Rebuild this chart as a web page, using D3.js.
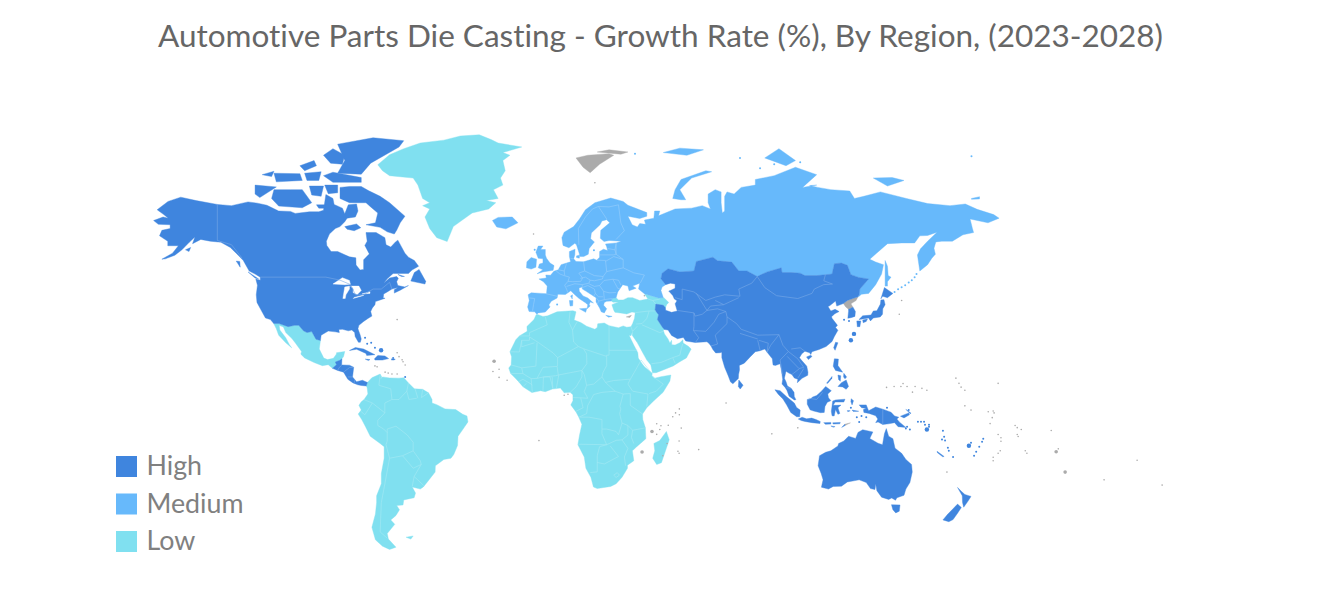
<!DOCTYPE html>
<html>
<head>
<meta charset="utf-8">
<title>Automotive Parts Die Casting</title>
<script src="https://cdn.jsdelivr.net/npm/d3@7"></script>
<style>
  html, body { margin: 0; background: #fff; }
  svg { display: block; }
</style>
</head>
<body>
<div id="map"></div>
<script>
// Chart text
var chartTitle = "Automotive Parts Die Casting - Growth Rate (%), By Region, (2023-2028)";
var legendLabels = ["High", "Medium", "Low"];

// Land outlines, [lon, lat], longitudes past 180 are the wrapped east end of the map
var highLand = [
  // Alaska, Canada, USA
  [[-168,65.6],[-164,66.5],[-161.8,66.2],[-163.7,67.1],[-166.5,68.3],[-161.9,70.3],[-156.5,71.3],[-150,70.5],[-141,69.6],[-135,69.3],[-128,70.2],[-124,69.9],[-120,69.4],[-115,68],[-110,67.9],[-108,67.4],[-102,67.8],[-98,67.8],[-96,68.2],[-95,71.9],[-92,71],[-91.5,69.6],[-88,68.7],[-87,67.3],[-85.5,69.5],[-82,69.7],[-81.4,68],[-82.5,66.5],[-86,66.2],[-87,65.3],[-89,64],[-91,63.5],[-93.5,62],[-94.8,60],[-94.6,58.8],[-92.8,57],[-90,57],[-85,55.4],[-82.3,55.1],[-82.2,52.9],[-80.5,51.3],[-79,51.5],[-79,54.5],[-76.6,56.3],[-78.5,58.8],[-77.5,60],[-78,62.4],[-73.7,62.4],[-70,61],[-69.5,59],[-67.5,58.3],[-65.5,59.8],[-64.5,60.3],[-61.5,56.5],[-60,55.3],[-57.5,54.3],[-55.7,52.5],[-58.5,51.3],[-60,50.2],[-66.5,50.2],[-69,48.5],[-70.5,47],[-68,48.7],[-65,49.2],[-64.3,48.6],[-65,47.5],[-64.5,46.2],[-61.5,45.7],[-60,46.2],[-63.5,44.6],[-66,43.6],[-66,44.8],[-64.5,45.5],[-67,45],[-69,44],[-70.5,43.3],[-70.7,41.9],[-69.9,41.8],[-72,41.2],[-74,40.6],[-74.2,39.5],[-75.3,38.3],[-76,37],[-75.5,35.3],[-77,34.5],[-79,33.3],[-81,31.8],[-81.4,30.5],[-80.5,28.2],[-80,26.5],[-80.4,25.2],[-81.2,25.2],[-82.6,27.5],[-82.8,29],[-84,30],[-85.5,29.7],[-88,30.3],[-89.5,30.2],[-89.3,29],[-91,29.3],[-94,29.6],[-97,28],[-97.3,25.9],[-99.2,26.4],[-101,29.4],[-103,29],[-104.5,29.7],[-106.5,31.8],[-108.2,31.8],[-111,31.3],[-114.8,32.5],[-117.1,32.5],[-118.5,34],[-120.6,34.6],[-122,36.8],[-124.2,40.3],[-124.5,43],[-124,46.3],[-124.7,48.4],[-122.8,48],[-122.8,49],[-125,50],[-127.5,51],[-130,54.3],[-133,56.5],[-135.5,58.2],[-139.5,59.7],[-144,60],[-148,60.5],[-151.5,59.3],[-150.5,61.2],[-153,59.6],[-156,57.5],[-159,55.9],[-163,54.8],[-164.5,54.7],[-160,56.5],[-157.5,58.7],[-162,58.7],[-162,60],[-165.5,61.5],[-164.5,63],[-161,63.5],[-161,64.5],[-166,64.6]],
  [[-61.5,66.7],[-63.5,65],[-65,63],[-66,62],[-69,62.6],[-72,63.8],[-78,64.5],[-74,65],[-73,67.5],[-76,69],[-78,70],[-85,70],[-89,71],[-89,73.5],[-85,73.7],[-80,73.7],[-77,72.8],[-72,71.5],[-68,70]],
  [[-117,73],[-110,73],[-105,73],[-101,70],[-105,68.8],[-115,69.2],[-118,71]],
  [[-125,72],[-125,74],[-116,73.6],[-123,71.2]],
  [[-90,76.5],[-80,76.3],[-76,78.5],[-64,81.5],[-62,82.6],[-75,83.1],[-90,82],[-87,79]],
  [[-96,76],[-92,76.7],[-80,75.6],[-80,74.6],[-92,74.6]],
  [[-96,80],[-92,81.2],[-87,80],[-88,78.3],[-93,78.5]],
  [[-117,76.5],[-106,76.4],[-105,75],[-116,74.7]],
  [[-122,76.2],[-117,76.9],[-118,75.8]],
  [[-106,78],[-100,79],[-99,78],[-104,77]],
  [[-104,76.5],[-97,76.8],[-98,75],[-103,75]],
  [[-102,73.8],[-96,73.8],[-97,71.5],[-101,71.8]],
  [[-95.5,74],[-90,74],[-90,72.3],[-94,72.1]],
  [[-99,69.5],[-95,69.5],[-95,68.7],[-98,68.7]],
  [[-87,64],[-82,64.7],[-80.2,63.7],[-83,62.9],[-86,63.3]],
  [[-59,47.7],[-53,46.7],[-52.7,47.6],[-55.5,51.5],[-57.5,50.5]],
  [[-128,50.7],[-123.5,48.4],[-125,48.7]],
  [[-133,54.1],[-131.5,54],[-131.3,52.2]],
  [[-64.5,49.9],[-61.7,49.2],[-63,49.2]],
  [[-154.5,57.5],[-152.3,58.2],[-153,57]],
  // Central America
  [[-92.2,14.6],[-90.5,16.1],[-91,17.2],[-89.1,17.9],[-88.2,18.5],[-88.3,16],[-85,15.9],[-83.2,15],[-83.7,11],[-82,9],[-79.5,9.6],[-77.4,8.7],[-77.9,7.2],[-80,7.4],[-81.5,7.7],[-83.5,8.5],[-85.7,10],[-87.5,13],[-90,13.7]],
  // Caribbean
  [[-85,21.9],[-82.5,23.1],[-79,22.5],[-74.2,20.2],[-77.7,19.9],[-78,20.7],[-82,22.4]],
  [[-74.4,18.5],[-73,19.9],[-70,19.7],[-68.4,18.6],[-71,18],[-74.2,18]],
  [[-78.3,18.4],[-76.3,18.2],[-77,17.8]],
  [[-67.2,18.5],[-65.6,18.4],[-66,18],[-67.2,18]],
  // Central, South and East Asia
  [[51,47],[53,46.7],[53,45.3],[51,44.5],[50.3,44.3],[52,42.8],[52.7,41.5],[53.8,40.9],[53,39.8],[53.9,37.2],[51.5,36.7],[49,37.5],[48.9,38.4],[48,39.3],[44.8,39.7],[44.5,37.5],[46,35.8],[45.5,34],[47.7,31],[48.5,30.2],[50,30],[51.5,27.9],[54,26.6],[56.5,27.1],[57.5,25.7],[61.5,25.1],[66.5,25.4],[67.3,24.8],[68.2,23.7],[69,22.3],[70.2,20.9],[72,21],[72.8,21.2],[72.8,19],[74,15],[75.5,11.5],[76.5,8.9],[77.5,8.1],[79.8,10.3],[79.9,12],[80.3,14],[80.2,15.8],[82.3,16.7],[85,19.5],[87,21.4],[89,21.8],[91,22.5],[92,21.2],[94.2,18.5],[94.5,16],[95.5,15.8],[97.5,16.5],[98,14],[98.6,10],[98.3,8],[99.7,6.5],[100.4,5.3],[101.3,2.9],[103.5,1.3],[104.2,1.4],[103.5,2.8],[103.4,4.5],[102.2,6.2],[100.6,7.2],[100,9],[99.3,10.5],[100,13.4],[101,12.7],[102.5,12],[103.5,10.6],[105,10],[104.8,8.6],[106.8,10.4],[109.2,11.7],[109.3,13],[108.8,15.5],[106.5,18],[105.7,19],[106.7,20.6],[108,21.6],[110,21],[110.5,20.3],[111,21.4],[114,22.3],[117,23.5],[119.5,25.5],[120.5,27.5],[122,29.9],[121,31],[121.8,31.8],[119.5,34.5],[119.3,35.1],[120.7,36.2],[122.5,37],[120.8,37.8],[119,37.2],[117.8,38.8],[118.5,39.1],[121,40.8],[121.5,39],[124.3,39.9],[126,41],[128,41.6],[130.5,42.3],[131,43],[131.3,45],[135,48.4],[130.8,48.9],[127.5,49.8],[126,52.8],[123.5,53.5],[120.5,53.3],[119.5,50],[116.7,49.8],[113,49.5],[108,49.5],[106,50.3],[102.3,50.5],[98.3,50.5],[98,52],[92,50.7],[87.8,49.2],[83.5,51],[80,51],[77,53.8],[71,54.2],[69,55.3],[62,54],[61,51],[55,50.7],[50,51.7],[47.5,50.3],[47,48.5],[49,46.5]],
  [[126.2,34.5],[126.5,37],[126.5,37.8],[128.4,38.6],[129.4,37],[129.2,35.2],[127.5,34.7]],
  [[130.9,34],[132.5,35.4],[136,35.7],[137,37.2],[138.5,37.3],[140,39.7],[140.2,41.2],[141.5,41.3],[142,39.5],[141,38],[140.9,36],[139.9,35],[137,34.6],[135.8,33.5],[135,34.6],[132.5,34.2]],
  [[130,33.5],[131.7,33.5],[131.3,31.3],[130.2,31.3]],
  [[132.5,33.8],[134.5,34.2],[134,33.3],[132.7,32.8]],
  [[140.2,41.6],[141.7,45.5],[145.3,43.5],[143,42],[141,42.5]],
  [[121,25.2],[122,25],[120.8,22],[120.2,23]],
  [[108.7,19.3],[110.5,20],[111,19.5],[109.5,18.2]],
  [[80,9.7],[81.8,7.5],[80.6,5.9],[79.8,7]],
  // Philippines
  [[120.5,18.5],[122.2,18.4],[122,15.8],[124,13],[121,13.7],[120,15.5]],
  [[122,7],[123.5,8.6],[125.5,9.7],[126.5,7],[125.5,5.8],[124,6.8]],
  [[124.5,12.5],[125.7,11],[125,10.2],[124.4,11]],
  [[122,11.8],[123.2,11.5],[123,9.2],[122.3,9.9]],
  [[117.2,8.4],[119.5,11.2],[119.5,10.5],[117.7,8.3]],
  // Indonesia, New Guinea
  [[95.3,5.6],[97.5,5.2],[100.4,2.5],[103.5,0],[104.5,-1.9],[106,-3],[105.8,-5.8],[104.5,-5.8],[102,-4],[100.3,-0.9],[98.7,1.7],[96.7,3.7]],
  [[105.2,-6.8],[106.8,-6],[108.7,-6.7],[110.9,-6.4],[112.7,-7],[114.5,-7.8],[114.4,-8.7],[111,-8.3],[108,-7.8],[106.4,-7.4]],
  [[109,1.5],[110.3,1.7],[111.3,2.5],[113,3.2],[115,5],[116.8,7],[119.2,5.2],[117.7,3.8],[118,2.2],[119,1],[117.5,0.3],[116.5,-1.5],[116.2,-4],[114.6,-4.1],[111.7,-3.4],[110.2,-2.9],[109,-0.5]],
  [[119.8,0.8],[121,1.3],[125,1.6],[124.5,0.4],[120.8,0.4],[120,-1],[121.5,-1],[123.3,-0.9],[122,-2],[122.8,-4.4],[122,-4.8],[121,-2.8],[120.4,-5.5],[119.5,-5.4],[119.2,-3.5]],
  [[127.6,1.8],[128.6,1],[128,-0.8],[127.5,0.5]],
  [[128,-3],[130.8,-3.5],[128.5,-3.6]],
  [[126,-3.2],[127.2,-3.3],[126.2,-3.7]],
  [[116,-8.3],[119,-8.2],[119,-8.9],[116.7,-9]],
  [[119.8,-8.4],[123,-8.2],[122.8,-8.8],[120,-8.9]],
  [[119,-9.7],[120.8,-10],[120,-10.2]],
  [[123.6,-10.3],[124.9,-9],[125,-9.5]],
  [[131,-0.8],[134,-0.8],[135,-3.3],[138,-1.7],[141,-2.6],[144.5,-3.9],[146,-5.5],[147.8,-6],[147,-6.8],[148,-8],[150.8,-10.3],[147.5,-10],[146,-8.3],[143.5,-8.8],[141,-9.1],[139,-8],[138,-8.3],[138.9,-6.8],[138,-5.4],[135.2,-4.4],[133,-4],[132.8,-2.8],[134,-2.3],[132,-2]],
  [[148.5,-5.6],[152,-4.2],[152.3,-5],[150,-6.3]],
  [[150.8,-2.7],[153,-4.3],[152.6,-4.5]],
  [[164,-20.2],[167,-22.3],[166.4,-22.4],[164.2,-20.8]],
  // Australia, New Zealand
  [[113.6,-26],[114.2,-22],[116.8,-20.6],[119,-20],[122,-18],[122.3,-17],[124.5,-16],[126.5,-14],[129.5,-14.9],[130.5,-12.4],[132.5,-11.3],[136.8,-12.2],[135.5,-14.9],[139,-16.9],[140.9,-17.5],[141.7,-13],[142.5,-10.8],[143.5,-14],[145.3,-15],[146.2,-18.9],[149,-21],[150.8,-23.5],[153.2,-25.5],[153.5,-28.5],[152.5,-32.5],[150.8,-35],[150,-37.3],[147,-38.2],[146.4,-39.1],[144.8,-38.3],[143.5,-38.8],[140.5,-38],[138.5,-35.6],[138,-33],[137.7,-35.2],[135.8,-34.8],[134,-32.5],[131,-31.5],[126,-32.3],[123.5,-33.9],[120,-34],[118,-35],[115,-34.3],[115.7,-31.5],[114.9,-29]],
  [[144.7,-40.7],[148.3,-40.8],[148,-43],[146.5,-43.6],[145.3,-42.5]],
  [[172.7,-34.4],[174.5,-36],[175.8,-37],[178.4,-37.7],[177,-39.6],[175.3,-41.6],[174.8,-39.9],[174.7,-37.5]],
  [[172.7,-40.5],[174.3,-41.7],[172.7,-43.7],[170.8,-45.9],[169,-46.6],[166.5,-46],[168.5,-44.1]]
];

var mediumLand = [
  // Europe and Russia
  [[-5.6,36],[-6.5,36.9],[-8.9,37],[-9.5,38.7],[-8.8,41],[-9.3,43],[-8,43.7],[-3.5,43.5],[-1.5,43.4],[-1.2,46],[-2.8,47.5],[-4.7,48.4],[-1.6,48.7],[-1.8,49.7],[0.2,49.6],[1.6,50.9],[3.5,51.4],[4.7,53],[7,53.5],[8.7,53.9],[8.2,55.5],[8.2,57],[10.6,57.7],[10.5,56],[10,54.8],[11,54],[14.2,53.9],[18.5,54.8],[19.8,54.4],[21,55.3],[21,57],[22.6,57.7],[24.4,57.3],[24,58.4],[23.5,59.2],[28,59.5],[30.2,60],[25,60.2],[22.9,59.9],[21.3,60.8],[21.5,63],[25.3,65],[24,65.8],[22,65.5],[21.2,64.5],[17.5,62.3],[17.2,60.7],[18.8,59.8],[16.6,57.9],[16.2,56.2],[14.3,55.5],[12.8,55.5],[11.2,59],[10.5,59.4],[8,58.1],[5.5,58.8],[5,61],[6,62.5],[10,64],[12.5,66],[15,68.3],[19,70],[25.7,71.1],[31,70.3],[33,69.4],[41,67.6],[41,66.7],[38,66.1],[33,66.7],[34.8,64.5],[37,63.9],[38,64.8],[40.5,64.6],[40,65.7],[44,66.2],[44.3,68],[46.5,68],[46,66.8],[53,68.5],[60,68.7],[64.5,69.3],[68,68.5],[67,70],[67,72],[70,73],[72.5,72.5],[72.5,70],[73,67.5],[74,68],[74,71.5],[75,72.5],[78,72],[81,73.5],[87,74],[87,75.2],[95,76],[104,77.7],[113,76.2],[107,73.5],[113,74],[110,73.9],[113.5,73.5],[119,73],[127,72.7],[129,71],[133,71.5],[140,72.5],[151,71],[160,69.8],[169.5,69.3],[176,69.7],[181,68.4],[188,67.1],[190.3,66.2],[185.6,65],[178,66],[179,63.5],[179.5,62.4],[175,61.8],[170.5,60],[166,60],[163.5,59.8],[162.7,58],[163.3,56.2],[161.8,55],[160,53],[156.7,51],[155.7,56],[157,57.8],[160,60],[164,62.5],[160,61.6],[156.7,61.5],[154.5,59.5],[149,59.5],[143,59.3],[135.5,54.7],[138,53.8],[141.3,53],[140.5,50],[138,46.5],[135,43.5],[132,43.2],[130.7,42.3],[131,43],[131.3,45],[135,48.4],[130.8,48.9],[127.5,49.8],[126,52.8],[123.5,53.5],[120.5,53.3],[119.5,50],[116.7,49.8],[113,49.5],[108,49.5],[106,50.3],[102.3,50.5],[98.3,50.5],[98,52],[92,50.7],[87.8,49.2],[83.5,51],[80,51],[77,53.8],[71,54.2],[69,55.3],[62,54],[61,51],[55,50.7],[50,51.7],[47.5,50.3],[47,48.5],[49,46.5],[47.5,45.7],[47,44.5],[48,42],[46,41.9],[40,43.4],[37.5,45],[38,47],[35,46],[36.5,45.3],[33.5,44.4],[33,46],[30.8,46.5],[28.7,44],[28,42],[26.3,41.7],[26,40.8],[24,40.7],[23,40.3],[22.7,39.3],[24,38],[23,36.5],[21.7,36.9],[21,38.3],[19.5,40.5],[19.5,42],[15.3,44.2],[13.7,45],[13.6,45.7],[12.3,45.4],[12.4,44.2],[14,42.6],[16,41.9],[18.4,40.1],[17,40.5],[16.6,39.5],[17,39],[15.7,38],[16,39.5],[15,40.2],[12.3,41.7],[10.5,43],[8.8,44.4],[6.5,43.1],[3.3,43.2],[3,41.9],[0.5,40.7],[-0.5,39.4],[0,38.7],[-2,36.8],[-5,36.5]],
  [[-5.5,50.1],[-3,50.7],[1.3,51.2],[1.7,52.7],[0,53.5],[-1.5,55],[-2,56],[-2,57.6],[-4,57.6],[-3,58.6],[-5,58.6],[-6,56.8],[-5,55],[-3,54.8],[-3,53.5],[-4.5,53.2],[-5,52],[-3,51.4]],
  [[-10,52],[-9.8,53.9],[-8,55.2],[-5.7,54.7],[-6,52.2],[-8,51.6]],
  [[-24.4,65.6],[-22,66.4],[-16,66.5],[-13.6,65],[-18.7,63.4],[-22.6,63.9]],
  [[12.5,38],[15.6,38.2],[15.1,36.7]],
  [[8.2,41],[9.7,41],[9.6,39.1],[8.5,39]],
  [[8.7,42.6],[9.5,43],[9.4,41.5]],
  [[23.6,35.6],[26.3,35.2],[24.8,34.9]],
  [[11.2,55.7],[12.6,56],[12.4,55],[11.2,55.2]],
  [[52,71],[55.5,70.7],[57.5,70.7],[55,73],[60,75.5],[68.5,76.8],[66,77],[55.5,75.2],[53,73]],
  [[142,54.3],[143,52.5],[143.3,49.5],[144.5,49],[143,47.5],[143,46],[142,46],[142,48.5]],
  [[48,80.5],[55,81.3],[65,81],[58,80]],
  [[91,79.5],[97,81.2],[104,79],[100,78]],
  [[137,75.5],[145,75.6],[150,75],[143,73.8]],
  [[178.6,71],[182,71.4],[182,70.9],[178.6,70.8]]
];

var lowLand = [
  // Africa, Arabia, Turkey, Caucasus
  [[-5.9,35.8],[-6.8,34],[-9.8,31.4],[-9.7,29.5],[-13,27.7],[-14.5,26.2],[-17,21.4],[-16.3,19.4],[-16.5,16],[-17.5,14.7],[-16.7,12.4],[-15,10.8],[-13.3,9],[-11.5,6.9],[-7.7,4.4],[-4,5.2],[-2,4.8],[1,5.9],[4.4,6.3],[6,4.3],[8.5,4.5],[9.7,3.5],[9.7,1],[8.8,-0.8],[11,-3.8],[12.2,-6],[13.5,-9],[12.5,-13.5],[11.8,-17.5],[14.5,-22.5],[15.2,-27],[17.3,-30.5],[18.4,-34.2],[20,-34.8],[25.7,-34],[28,-33],[30.5,-30.5],[32.8,-27],[32.8,-25.8],[35.5,-24],[34.9,-20],[36.5,-18.5],[40.6,-15],[40.4,-10.5],[39.3,-7],[39.2,-4.7],[41,-2],[44,1],[47.9,4.5],[50.8,9.3],[51.2,11.8],[47,11.1],[44.3,10.5],[43.2,11.5],[43.3,12.5],[40,15.2],[39,16.5],[37.4,18.8],[37.2,21],[35.6,23.9],[34,27],[32.5,29.9],[33.5,28],[34.3,27.8],[35,29.5],[34.8,28],[37,25],[39,21.5],[41,18],[42.7,16],[43.4,12.7],[45,12.8],[49,14.3],[52.2,15.6],[55,17.3],[57.8,18.9],[59.8,22.5],[58.6,23.6],[56.4,24.9],[56.3,26.2],[55,25],[53,24.1],[51.6,24.2],[51.5,26],[50.8,24.9],[50,26.5],[48.5,28.5],[48,29.9],[48.5,30.2],[47.7,31],[45.5,34],[46,35.8],[44.5,37.5],[44.8,39.7],[48,39.3],[48.9,38.4],[49.4,39.5],[50.3,40.3],[48.5,41.8],[48,42],[46,41.9],[40,43.4],[41.5,41.5],[38,41],[35,42],[33,42],[31,41.2],[29,41.2],[28,42],[26.3,41.7],[26,40.8],[26.7,40.4],[29,40.5],[26.2,39.5],[27,37.5],[27.5,36.7],[30.5,36.4],[32.5,36.1],[34.7,36.8],[36.1,36.6],[35.8,34.5],[35,32.5],[34.3,31.3],[32.5,31.1],[31,31.6],[29,30.9],[25,31.7],[23,32.7],[20.2,32.4],[20,31],[19,30.3],[15.5,31.5],[13,32.9],[10.2,33.8],[11,36.9],[9.7,37.3],[3,36.9],[-1,35.4],[-3,35.2],[-5.3,35.9]],
  [[49.3,-12],[50.5,-15.5],[47.2,-24.8],[45.2,-25.5],[43.5,-23],[44.4,-20],[44,-17],[46.5,-15.8]],
  // Greenland
  [[-73,78.2],[-68,80.1],[-62,81.2],[-55,82.2],[-45,82.7],[-38,83.4],[-30,83.6],[-25,82.8],[-22,82.2],[-12,81.5],[-20,80.5],[-17,80],[-20,79],[-19,77],[-21,75.5],[-20,74],[-24,73],[-22,71],[-27,70.5],[-23,70],[-26,68.5],[-33,67.5],[-37,65.8],[-41,64],[-43.6,59.9],[-48,61],[-51,63.5],[-53,66.5],[-51,68.5],[-54,69.3],[-51,70],[-54,71],[-56,74],[-58,75.5],[-68,76],[-71,77]],
  // Mexico
  [[-117.1,32.5],[-114.8,32.5],[-111,31.3],[-108.2,31.8],[-106.5,31.8],[-104.5,29.7],[-103,29],[-101,29.4],[-99.2,26.4],[-97.3,25.9],[-97.8,22.5],[-95.9,18.8],[-94.3,18.2],[-91.8,18.7],[-90.5,20.5],[-90.5,21],[-87,21.5],[-87.5,19.5],[-88.2,18.5],[-89.1,17.9],[-91,17.2],[-90.5,16.1],[-92.2,14.6],[-94,16.1],[-96.5,15.7],[-100,17],[-104,18.9],[-105.6,20.4],[-105.3,21.5],[-108,25],[-109.4,26.7],[-112,29],[-113,31.2],[-114.8,31.8],[-114.5,30],[-112,27],[-110.5,24.3],[-109.5,23],[-112,25],[-115,28],[-116,30.5]],
  // South America
  [[-77.4,8.7],[-75.5,10.7],[-72,12.2],[-71.3,11],[-72,10],[-71,11],[-68,10.6],[-64,10.5],[-62,10.7],[-60,8.5],[-57.5,6],[-54,5.8],[-51.5,4.3],[-50,1.5],[-50,0],[-48,-0.7],[-44.5,-2.5],[-40,-2.8],[-37,-4.8],[-35.2,-5.5],[-34.8,-8],[-37,-11.2],[-39,-14],[-39.2,-17.8],[-40.8,-21.5],[-42,-23],[-45,-23.5],[-48.6,-26],[-48.7,-28.5],[-52,-32.3],[-53.7,-34.2],[-55,-35],[-58.4,-34.2],[-57,-36.5],[-57.6,-38.2],[-62,-39],[-62.3,-40.8],[-65,-41],[-63.8,-42.5],[-65.3,-44.5],[-67.5,-46],[-65.8,-47.5],[-69,-50.5],[-68.5,-52.3],[-65.3,-54.8],[-68,-55.5],[-71,-54.5],[-74,-52.5],[-75.5,-48.5],[-74,-44],[-73.5,-40],[-73.5,-37.5],[-71.5,-33],[-71.5,-29],[-70.3,-23],[-70.3,-18.3],[-72,-17],[-76.2,-14],[-78.2,-10],[-79.8,-7],[-81.3,-4.7],[-80,-3],[-81,-1],[-80,0.5],[-78.8,1.5],[-77.2,3.8],[-77.5,6.5],[-77.9,7.2]],
  [[-61,-51.7],[-58,-51.3],[-59,-52.3]]
];

var noDataLand = [
  [[124.3,39.9],[125.3,38.7],[126.5,37.8],[128.4,38.6],[127.5,39.8],[129.7,41],[130.5,42.3],[128,41.6],[126,41]],
  [[11,79.5],[16,80],[25,80.3],[27,80],[21,78.3],[17,76.6],[14,77.7]],
  [[20,80.6],[30,80.2],[33,80.6],[25,81]],
  [[125,-9.5],[124.9,-9],[127.3,-8.4]],
  [[32.3,35],[34.5,35.6],[33.8,34.8]]
];

var lakes = [
  [[-92,46.7],[-88,48.8],[-85,47.9],[-84.6,46.6],[-87,46.5]],
  [[-87.8,41.7],[-87,45.7],[-85,46],[-85,45],[-86.5,43],[-86.8,41.7]],
  [[-84.5,46],[-81,46],[-80,44.5],[-81.7,43.1],[-83.5,43.8],[-83.3,45]],
  [[-83.4,41.7],[-79,42.8],[-79,42.9],[-83,42.1]],
  [[-79.7,43.3],[-76.3,44.1],[-76.3,43.5]]
];

// Country borders
var highBorders = [
  [[-141,69.6],[-141,60.2],[-135,59],[-130.5,55]],
  [[-122.8,49],[-95,49],[-89,48],[-84.5,46.5],[-82.5,43],[-79,43],[-75,45],[-71.5,45],[-68,47.3],[-67,45]],
  [[-90,13.8],[-89.3,15],[-88.3,15.8]],[[-87.5,13],[-85,14.9],[-83.2,15]],[[-85.7,11],[-83.7,11]],[[-83,8.5],[-82.8,9.6]],
  [[53,42],[56,41.3],[56,45],[61,44],[66,41],[70,42.2],[74,43],[80.5,42.5],[80,45],[85.5,47],[87.8,49.2]],
  [[54,37.4],[61,36.5],[61.5,35.3],[64.5,36],[66.5,37.4],[62,43.5]],
  [[66.5,37.4],[68,39],[73.6,39.5],[70,41]],[[73.6,39.5],[80,42]],
  [[61,36.5],[61,31.5],[60.8,29.8]],[[60.8,29.8],[63,27],[61.6,25.1]],
  [[60.8,29.8],[66,29.5],[69.5,33],[71.5,36],[74.5,37]],[[66.5,37.4],[71,38],[74.5,37]],
  [[68.2,23.7],[71,24.5],[70,28],[75,32.5],[75,35],[74.5,37]],
  [[75,35],[79,32.5],[81,30.3],[88,28],[97,28.2]],[[80.5,28.7],[88,26.5]],
  [[88,26],[89,22]],[[92,21.5],[92.5,24.8],[88.5,26]],[[92,21.2],[93.5,24],[97,28.2]],
  [[97,28.2],[98.7,24],[101,21.5]],[[101,21.5],[97.5,18],[98.5,12]],
  [[101,21.5],[103,20],[105,18.5],[107.5,15],[105.5,14.5],[102,18],[100.5,19.5]],
  [[102.2,22.5],[106,23],[108,21.6]],[[105.5,14.3],[102.5,12]],[[107.5,14.5],[105,10.5]],[[100.2,6.5],[102,6.2]],
  [[87.8,49.2],[91,45.5],[96,42.7],[105,41.7],[111,43.5],[112,45],[116,46.5],[119.7,46.7],[116,47.8],[116.7,49.8]],
  [[141,-2.6],[141,-9.1]],[[109.6,2],[113,1.5],[115.5,4.5]]
];

var mediumBorders = [
  [[-1.8,43.4],[3,42.5]],[[-8.8,41.9],[-6.5,41.7],[-7,39.5],[-7.4,37.2]],
  [[2.6,51],[4.2,50],[6,49.5],[8.2,49],[7.6,47.6],[6.2,46.3],[7,45],[7.5,43.8]],
  [[3.4,51.4],[6,51],[7,53.4]],[[6,51],[6.2,49.6]],[[8.7,54.9],[9.9,54.8]],
  [[14.2,53.9],[14.7,51],[12.2,50.3],[13.8,48.7],[13,47.6],[9.6,47.5],[7.6,47.6]],
  [[7,45.9],[10.5,46.8],[13.7,46.5],[13.6,45.7]],[[13.7,46.5],[16.5,47],[17,48],[15,49],[12.9,48.6]],
  [[14.7,51],[18.8,49.5],[22.5,49.2],[24,50.8],[23.5,54.3],[19.8,54.4]],
  [[17,48],[18.8,47.8],[22.2,48.4],[22.5,49.2]],[[16.5,46.8],[18.8,45.9],[21,46.2],[22.9,47.9]],
  [[22.9,47.9],[26.6,48.3],[28.2,46],[28.7,45.2],[29.6,45.2]],[[21,46.2],[22.7,44.2],[25,43.7],[27.9,43.8]],
  [[22.7,44.2],[23,41.3],[26.3,41.7]],[[13.6,45.5],[16,46.2],[18.8,45],[19.2,43.5],[18.5,42.5]],
  [[19.2,43.5],[20.5,42.3],[22.5,42.3]],[[19.5,42],[20.7,40.8],[20,39.7]],[[20.7,40.8],[23,41.3]],
  [[24,50.8],[31,52],[35.5,50.4],[40,49.7],[38.3,47.1]],[[23.5,54],[27,55.5],[31,54.6],[31,52]],
  [[21,56],[27,56],[28,56.2],[27.5,57.5],[24.4,57.9]],[[27.5,57.5],[28,59.4]],[[26.6,48.3],[29,48],[30,46.4]],
  [[28,59.4],[28,56.2],[31,54.6]],[[29,69.5],[30,65],[31.5,62.9],[28,60.5]],
  [[12.2,59],[12,63.5],[15,66.5],[18,68.5],[20.5,69.1],[25,69],[29,69.5]],[[20.5,69.1],[24,66],[24,65.8]]
];

var lowBorders = [
  [[-2,35],[-1.2,32],[-8.7,29],[-8.7,27.7],[-13,27.7]],[[-8.7,27.3],[-8.7,26],[-12,26],[-13,21.3],[-17,21.4]],
  [[-8.7,27.3],[-4.8,25],[1.2,21],[3.2,19],[3.2,16]],[[-12,26],[-12,23.4],[-6.6,25]],[[-5.5,25],[-6,15.5],[-12,14.8],[-16.5,16]],
  [[3.2,19],[12,23.5],[14.2,22.6],[15.5,20.5],[15.6,16.5],[13.5,13.7],[3.5,11.8],[3,15.4],[3.2,16]],
  [[8.5,37],[8,33],[9.5,30],[10,25.3],[12,23.5]],[[11.5,33.2],[9.5,30]],
  [[25,31.7],[25,20],[24,20],[24,19.5],[14.2,22.6]],[[25,22],[36.9,22]],
  [[24,19.5],[24,15.7],[22.5,13],[22,11],[23.5,8.7]],[[15.5,7.5],[18.5,8],[22,11]],[[13.5,13.7],[14.5,12],[15.5,7.5]],
  [[13.5,13.7],[13.5,11],[11,6.8],[8.6,4.6]],[[2.7,6.3],[3.7,11.8]],[[-3,5],[-2.8,11],[0,11],[1.2,6.1]],[[1.2,6.1],[0.9,11]],
  [[-5.5,10.4],[-2.8,11],[2.4,11.5],[3.5,11.8]],[[-12,14.8],[-11.5,12.4],[-8,10.3],[-5.5,10.4],[-3,15],[3,15.4]],
  [[-7.5,4.5],[-8,10.3]],[[-13.3,9],[-11.5,10],[-8,8],[-7.5,7.5]],[[-16.7,12.4],[-11.5,12.4]],[[-11.5,6.9],[-10,8.3]],
  [[23.5,8.7],[27,9.5],[33,10],[34,10]],[[38.6,18],[36.5,14.3],[34,10],[33,8],[35,5],[41.5,3.8],[41,-1.5]],
  [[38.6,18],[43,12.6]],[[43,11.5],[48,8],[45,5],[42,4]],[[27.5,5],[31,3.8],[34,4]],[[34,4],[34,-1]],
  [[31,3.8],[29.6,-1.4],[30,-2.5]],[[18.5,3.6],[22,4.5],[27.5,5]],[[23.5,8.7],[27.5,5]],
  [[15.5,7.5],[14.5,4.8],[16,2],[13,2.2],[9.8,2.3]],[[13,2.2],[14,-2],[11,-3.5]],[[18.5,3.6],[16,-1],[15.5,-4.5],[12.2,-6]],
  [[12.5,-6],[16.5,-6],[22,-7],[22,-11],[24,-11],[28,-12],[29,-13.4],[30.5,-8.5],[29.5,-4.5],[30,-2.5]],
  [[34,-1],[39.3,-4.7]],[[30.5,-8.5],[33,-9.5],[35,-11.5],[40.4,-10.5]],[[11.8,-17.3],[24,-17.5],[22,-13],[22,-11]],
  [[24,-17.5],[28,-15.7],[30.5,-15.5],[33,-13.5],[33,-9.5]],[[35,-11.5],[34.5,-14.5],[35.5,-17]],
  [[24,-17.5],[21,-18.3],[20,-22],[20,-28.4],[17,-28.7]],[[20,-24.7],[23,-25.3],[29,-22.3],[25.5,-18]],
  [[30.5,-15.5],[33,-19],[31.5,-22.5],[32,-26]],[[27,-29.7],[28.5,-28.7],[29.4,-29.7],[28,-30.6],[27,-29.7]],
  [[36.2,36.6],[42,37.2],[44.8,37.2]],[[42,37.2],[41,34.4],[39,32.5],[36.5,32.3]],[[39,32],[46.5,29],[48,29.5]],
  [[43,16.5],[47,17],[52,19],[55,20],[55.6,22.5],[56.2,24.5]],[[52,19],[53,16.7]],[[41.5,41.5],[43.5,41],[46.5,41.5]],[[43.5,41],[44.8,39.7]],
  [[35,29.5],[37,31.5]],[[34.3,31.3],[35,29.5]],
  [[-72,12],[-72.5,7.5],[-67.5,6],[-67,1.5]],[[-67,1.5],[-70,0],[-70,-4.2]],[[-78.8,1.4],[-75.3,0],[-70,-4.2]],[[-80.3,-3.4],[-78.5,-5],[-75.3,0]],
  [[-70,-4.2],[-73,-7.3],[-73,-9.5],[-70.5,-11],[-69,-12.5]],[[-69,-11],[-69,-16],[-69.5,-17.5]],
  [[-69,-11],[-65.3,-9.8],[-60.5,-13.5],[-58,-16.5],[-58,-20]],[[-69.5,-17.5],[-68,-23]],[[-68,-23],[-62.5,-22],[-58,-20]],
  [[-67,1.5],[-64,1.5],[-60.7,5]],[[-60,8.5],[-60.7,5],[-59.8,1.5],[-56.5,2]],[[-57.2,6],[-56,2]],[[-54,5.8],[-54.5,2.3]],[[-54.5,2.3],[-51.5,4.3]],
  [[-68,-23],[-70,-33],[-71.5,-40],[-72,-50],[-69,-52]],[[-62.5,-22],[-58,-27],[-54.6,-25.5],[-55,-24],[-58,-20]],
  [[-58.4,-34],[-57.6,-30.2]],[[-57.6,-30.2],[-53.5,-33.7]],[[-54.6,-25.5],[-57.6,-30.2]]
];

// Islands too small for an outline, [lon, lat]
var highIslets = [[-78.4,27],[-75.8,25],[-74.2,23],[-77.5,24.6],[-66.5,18.8],[-61.4,11],[124.6,33.9],[126.7,33.5],[155.9,-7.9],[157.2,-7.9],[158.5,-7.9],[158.9,-9.2],[160.6,-9.2],[160.6,-10],[152,-3],[151.3,-10],[152.5,-11.2],[150.8,-10.8],[142.8,-2],[166.5,-11.7],[167,-14.2],[166.1,-15.4],[167.4,-15.8],[168.6,-18.7],[169,-20],[170.8,-22.5],[178.4,-16.7],[183.5,-15],[183,-16.3],[181.8,-18.3],[180.5,-20.4],[179.7,-22],[130,-6],[132,-5.5],[134,-6],[127.5,-2],[131,-8]];
var highLargeIslets = [[-71.6,22],[128.8,28.5],[127.5,26],[159.7,-11.2],[177.5,-17.9]];
var mediumIslets = [[146,44],[147.5,44.9],[149,45.6],[150.5,46.3],[152,47.2],[153.3,48],[154.5,49],[155.3,50],[36,80.3],[80.5,79.5],[89,77.5],[95,78.3],[106,78.7],[3,39.6],[18.6,57.4],[-6.5,57.5],[178.6,79.8]];
var greyIslets = [[-24.2,13.3],[-21.6,14.2],[-21.6,10.8],[-18.2,9.6],[6,3.3],[7.6,3.7],[-4.7,-15.8],[45.2,-8.8],[47,-9.6],[46.5,-11.2],[45.2,-13.2],[50.1,-9.4],[55.6,-10.6],[54.8,-2.5],[53.2,-4.2],[52,-5.8],[54.8,-5],[49.6,-17],[54.7,-16],[47.8,-22],[54.7,-21],[54.2,-20.2],[63,-19.5],[74.6,0],[94,-13],[105,-10.5],[149,41],[148,36],[142.6,6.6],[145.8,7],[148.7,7],[149.6,8.2],[151.3,7],[154.7,7],[153.6,4.6],[157.6,6.2],[159.7,5.4],[172,10.5],[173.3,8.3],[174.2,6.7],[175.8,5.4],[189.8,8.3],[175.8,-1.2],[178.4,-3],[185.6,-3.7],[187.7,-3.4],[188.1,-4.2],[187.3,-6.2],[186.4,-8.7],[197,-9.5],[197.9,-10.4],[199.6,-11.2],[197.9,-13.3],[198.3,-14.1],[189.8,-13.3],[191,-14.6],[191,-16.1],[190.7,-20],[189.8,-21],[187.7,-22.6],[187.7,-24],[201.3,-20],[202,-21],[212.3,-11.6],[215.3,-19.2],[234.7,-31.5],[248.7,-23.8],[259.3,-33.5],[168.2,-28.5],[-64.8,21],[-64,19.4],[-62.7,18.1],[-62.3,17.3],[-61.4,16],[-74.2,15.6],[-73.3,15.2],[-69.9,13],[-68.6,12.6],[-67,12.2],[-64.8,12.2],[-64.8,34],[-7,62],[19,74.5],[40,42.7]];
var greyLargeIslets = [[-23.7,17.5],[43.2,-12],[39,-20.5],[214.4,-20.4],[218.2,-28.5]];

// Set up the chart
var svgWidth = 1320;
var svgHeight = 594;

var colors = { high: "#3f85de", medium: "#67b9fb", low: "#80e0f0", noData: "#ababab" };
var legendColors = [colors.high, colors.medium, colors.low];

// Miller cylindrical, cut at 169W so that Chukotka sits on the right
function millerRaw(lambda, phi) {
  return [lambda, 1.25 * Math.log(Math.tan(Math.PI / 4 + 0.4 * phi))];
}

var projection = d3.geoProjection(millerRaw)
  .rotate([-11, 0])
  .scale(135.2)
  .translate([576, 403]);

// The reference keeps the far Pacific islands past the right end of the map
var eastProjection = d3.geoProjection(millerRaw)
  .rotate([-180, 0])
  .scale(135.2)
  .translate([975, 403]);

function project(p) {
  return p[0] > 180 ? eastProjection(p) : projection(p);
}

var lineGen = d3.line();

function ringPath(ring) {
  return lineGen(ring.map(function(p) { return projection(p); })) + "Z";
}

function borderPath(line) {
  return lineGen(line.map(function(p) { return projection(p); }));
}

var svg = d3.select("#map")
  .append("svg")
  .attr("width", svgWidth)
  .attr("height", svgHeight);

svg.append("text")
  .attr("x", 660.5)
  .attr("y", 47)
  .attr("text-anchor", "middle")
  .style("font-family", "Lato")
  .style("font-size", "31.5px")
  .style("font-variant-ligatures", "none")
  .style("fill", "#666666")
  .text(chartTitle);

// Land
function drawLand(rings, color) {
  svg.append("g")
    .selectAll("path")
    .data(rings)
    .enter()
    .append("path")
    .attr("d", ringPath)
    .attr("fill", color)
    .attr("stroke", color)
    .attr("stroke-width", 0.4);
}

drawLand(noDataLand, colors.noData);
drawLand(lowLand, colors.low);
drawLand(mediumLand, colors.medium);
drawLand(highLand, colors.high);
drawLand(lakes, "#ffffff");

// Borders
function drawBorders(lines, color) {
  svg.append("g")
    .selectAll("path")
    .data(lines)
    .enter()
    .append("path")
    .attr("d", borderPath)
    .attr("fill", "none")
    .attr("stroke", color)
    .attr("stroke-width", 0.6);
}

drawBorders(highBorders, "#78a9e8");
drawBorders(mediumBorders, "#98cefb");
drawBorders(lowBorders, "#a6e9f4");

// Small islands
function drawIslets(points, color, radius) {
  svg.append("g")
    .selectAll("circle")
    .data(points)
    .enter()
    .append("circle")
    .attr("cx", function(d) { return project(d)[0]; })
    .attr("cy", function(d) { return project(d)[1]; })
    .attr("r", radius)
    .attr("fill", color);
}

drawIslets(greyIslets, colors.noData, 0.8);
drawIslets(greyLargeIslets, colors.noData, 1.8);
drawIslets(mediumIslets, colors.medium, 1);
drawIslets(highIslets, colors.high, 1);
drawIslets(highLargeIslets, colors.high, 2.2);

// Legend
var legendY = d3.scalePoint()
  .domain(legendLabels)
  .range([456, 531]);

var legend = svg.append("g")
  .selectAll("g")
  .data(legendLabels)
  .enter()
  .append("g")
  .attr("transform", function(d) { return "translate(116," + legendY(d) + ")"; });

legend.append("rect")
  .attr("width", 21)
  .attr("height", 21)
  .attr("fill", function(d, i) { return legendColors[i]; });

legend.append("text")
  .attr("x", 30.5)
  .attr("y", 19)
  .style("font-family", "Lato")
  .style("font-size", "26.8px")
  .style("fill", "#808080")
  .text(function(d) { return d; });
</script>
</body>
</html>
